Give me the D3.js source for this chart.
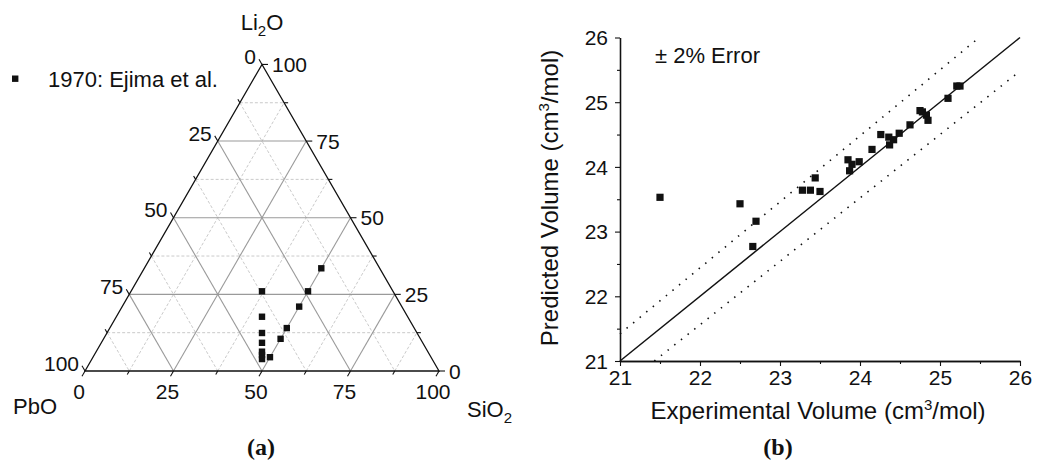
<!DOCTYPE html>
<html>
<head>
<meta charset="utf-8">
<script src="https://cdn.jsdelivr.net/npm/d3@7"></script>
<style>
  body { margin: 0; background: #fff; }
  svg { display: block; }
  text { font-family: "Liberation Sans", Arial, sans-serif; fill: #111; }
</style>
</head>
<body>
<svg id="chart" width="1037" height="461"></svg>
<script>
// ---- (a) ternary compositions, mol % (PbO = 100 - Li2O - SiO2) ----
const ternLi2O = [33.5, 26, 21, 14, 10.5, 4.5, 26, 17.7, 12.4, 9.2, 6.3, 5.2, 3.9];
const ternSiO2 = [50, 50, 50, 50, 50, 50, 37, 41.15, 43.8, 45.4, 46.85, 47.4, 48.05];
const ternMajor = [0, 25, 50, 75, 100];
const ternGrid = [25, 50, 75];
const ternMinor = [12.5, 37.5, 62.5, 87.5];
const legendLabel = "1970: Ejima et al.";

// ---- (b) experimental vs predicted molar volume, cm3/mol ----
const experimental = [21.50, 22.50, 22.70, 22.66, 23.28, 23.38, 23.44, 23.50, 23.85, 23.87,
                      23.90, 23.99, 24.15, 24.26, 24.36, 24.37, 24.42, 24.49, 24.625, 24.75,
                      24.78, 24.83, 24.85, 25.10, 25.21, 25.25];
const predicted    = [23.53, 23.43, 23.16, 22.77, 23.64, 23.64, 23.83, 23.62, 24.11, 23.94,
                      24.04, 24.08, 24.27, 24.50, 24.46, 24.34, 24.42, 24.52, 24.65, 24.87,
                      24.85, 24.80, 24.72, 25.06, 25.25, 25.25];
const volTicks = [21, 22, 23, 24, 25, 26];
const volMinor = [21.5, 22.5, 23.5, 24.5, 25.5];
const errorBand = 0.02;

const svg = d3.select("#chart");

// ================= (a) Ternary diagram =================
const T = { x0: 85, y0: 371, side: 354 };
const s = d3.scaleLinear().domain([0, 100]).range([0, T.side]);
const R3 = Math.sqrt(3) / 2;
// position from Li2O and SiO2 percentages
function tp(li, si) {
  return [T.x0 + s(si) + s(li) / 2, T.y0 - s(li) * R3];
}
const a = svg.append("g");

function seg(p, q) {
  return a.append("line").attr("x1", p[0]).attr("y1", p[1]).attr("x2", q[0]).attr("y2", q[1]);
}
// grid lines: minor dashed, major solid
function gridFamily(vals, stroke, dash, width) {
  vals.forEach(v => {
    // constant Li2O
    seg(tp(v, 0), tp(v, 100 - v)).attr("stroke", stroke).attr("stroke-dasharray", dash).attr("stroke-width", width);
    // constant SiO2
    seg(tp(0, v), tp(100 - v, v)).attr("stroke", stroke).attr("stroke-dasharray", dash).attr("stroke-width", width);
    // constant PbO
    seg(tp(100 - v, 0), tp(0, 100 - v)).attr("stroke", stroke).attr("stroke-dasharray", dash).attr("stroke-width", width);
  });
}
gridFamily(ternMinor, "#c4c4c4", "3,2", 0.9);
gridFamily(ternGrid, "#9a9a9a", null, 1.1);

// triangle frame
a.append("path")
  .attr("d", d3.line()([tp(0, 0), tp(0, 100), tp(100, 0)]) + "Z")
  .attr("fill", "none").attr("stroke", "#111").attr("stroke-width", 1.3);

// ticks
const tickLen = 6, minorLen = 4;
function ticks(vals, len) {
  vals.forEach(v => {
    const b = tp(0, v);            // SiO2 axis (bottom)
    seg(b, [b[0] - 0.5 * len, b[1] + R3 * len]).attr("stroke", "#111").attr("stroke-width", 1.1);
    const r = tp(v, 100 - v);      // Li2O axis (right)
    seg(r, [r[0] + len, r[1]]).attr("stroke", "#111").attr("stroke-width", 1.1);
    const l = tp(100 - v, 0);      // PbO axis (left)
    seg(l, [l[0] - 0.5 * len, l[1] - R3 * len]).attr("stroke", "#111").attr("stroke-width", 1.1);
  });
}
ticks(ternMajor, tickLen);
ticks(ternMinor, minorLen);

// tick labels
const tfs = 21;
ternMajor.forEach(v => {
  const b = tp(0, v);
  a.append("text").attr("x", b[0] - 6).attr("y", b[1] + 20)
    .attr("text-anchor", "middle").attr("dominant-baseline", "central")
    .attr("font-size", tfs).text(v);
  const r = tp(v, 100 - v);
  a.append("text").attr("x", r[0] + 10).attr("y", r[1])
    .attr("text-anchor", "start").attr("dominant-baseline", "central")
    .attr("font-size", tfs).text(v);
  const l = tp(100 - v, 0);
  a.append("text").attr("x", l[0] - 6).attr("y", l[1] - 8)
    .attr("text-anchor", "end").attr("dominant-baseline", "central")
    .attr("font-size", tfs).text(v);
});

// component names (with sub/superscripts)
function formula(g, x, y, anchor, parts) {
  const t = g.append("text").attr("x", x).attr("y", y).attr("text-anchor", anchor)
    .attr("font-size", 22);
  parts.forEach(p => {
    if (p.sub) t.append("tspan").attr("dy", 6).attr("font-size", 15).text(p.t);
    else if (p.sup) t.append("tspan").attr("dy", -9).attr("font-size", 15).text(p.t);
    else t.append("tspan").attr("dy", p.back || 0).text(p.t);
  });
  return t;
}
formula(a, 262, 30, "middle", [{ t: "Li" }, { t: "2", sub: true }, { t: "O", back: -6 }]);
formula(a, 13, 414, "start", [{ t: "PbO" }]);
formula(a, 467, 417, "start", [{ t: "SiO" }, { t: "2", sub: true }]);

// data points
a.append("g").selectAll("rect").data(ternLi2O.map((li, i) => tp(li, ternSiO2[i])))
  .join("rect")
  .attr("x", d => d[0] - 3.2).attr("y", d => d[1] - 3.2)
  .attr("width", 6.4).attr("height", 6.4).attr("fill", "#111");

// legend
a.append("rect").attr("x", 12).attr("y", 75.5).attr("width", 6.4).attr("height", 6.4).attr("fill", "#111");
a.append("text").attr("x", 48).attr("y", 79).attr("dominant-baseline", "central")
  .attr("font-size", 22).text(legendLabel);

// caption
a.append("text").attr("x", 261).attr("y", 447).attr("text-anchor", "middle")
  .attr("dominant-baseline", "central")
  .style("font-family", "'Liberation Serif', 'Times New Roman', serif")
  .attr("font-weight", "bold").attr("font-size", 24).text("(a)");

// ================= (b) Predicted vs experimental =================
const x = d3.scaleLinear().domain([21, 26]).range([620, 1020]);
const y = d3.scaleLinear().domain([21, 26]).range([361, 37.5]);
const b = svg.append("g");

// parity line and +/- error band
const parity = d3.line().x(d => x(d[0])).y(d => y(d[1]));
b.append("path").attr("d", parity([[21, 21], [26, 26]]))
  .attr("fill", "none").attr("stroke", "#111").attr("stroke-width", 1.5);
const upEnd = 26 / (1 + errorBand);
b.append("path").attr("d", parity([[21, 21 * (1 + errorBand)], [upEnd, 26]]))
  .attr("fill", "none").attr("stroke", "#111").attr("stroke-width", 1.6)
  .attr("stroke-dasharray", "1.5,7");
const loStart = 21 / (1 - errorBand);
b.append("path").attr("d", parity([[loStart, 21], [26, 26 * (1 - errorBand)]]))
  .attr("fill", "none").attr("stroke", "#111").attr("stroke-width", 1.6)
  .attr("stroke-dasharray", "1.5,7");

// axes
const fmt = d3.format("d");
b.append("g").attr("transform", `translate(0,${y(21)})`)
  .call(d3.axisBottom(x).tickValues(volTicks).tickFormat(fmt).tickSize(5).tickSizeOuter(0).tickPadding(4));
b.append("g").attr("transform", `translate(0,${y(21)})`)
  .call(d3.axisBottom(x).tickValues(volMinor).tickSize(3).tickSizeOuter(0).tickFormat(""));
const yAxis = b.append("g").attr("transform", `translate(${x(21)},0)`)
  .call(d3.axisLeft(y).tickValues(volTicks).tickFormat(fmt).tickSize(5).tickSizeOuter(0).tickPadding(7));
b.append("g").attr("transform", `translate(${x(21)},0)`)
  .call(d3.axisLeft(y).tickValues(volMinor).tickSize(3).tickSizeOuter(0).tickFormat(""));
b.selectAll(".domain").attr("stroke", "#111").attr("stroke-width", 1.3);
b.selectAll(".tick line").attr("stroke", "#111").attr("stroke-width", 1.1);
b.selectAll(".tick text").attr("font-size", 21).attr("fill", "#111")
  .style("font-family", "'Liberation Sans', Arial, sans-serif");
yAxis.selectAll(".tick text").attr("dy", "0.35em");

// points
b.append("g").selectAll("rect").data(experimental.map((e, i) => [x(e), y(predicted[i])]))
  .join("rect")
  .attr("x", d => d[0] - 3.6).attr("y", d => d[1] - 3.6)
  .attr("width", 7.2).attr("height", 7.2).attr("fill", "#111");

// annotation
b.append("text").attr("x", 655).attr("y", 55).attr("dominant-baseline", "central")
  .attr("font-size", 22).text("\u00B1 2% Error");

// axis titles
formula(b, 818, 419, "middle",
  [{ t: "Experimental Volume (cm" }, { t: "3", sup: true }, { t: "/mol)", back: 9 }]).attr("font-size", 24);
const yt = formula(b, 0, 0, "middle",
  [{ t: "Predicted Volume (cm" }, { t: "3", sup: true }, { t: "/mol)", back: 9 }]).attr("font-size", 24);
yt.attr("transform", "translate(558,198) rotate(-90)");

b.append("text").attr("x", 778).attr("y", 447).attr("text-anchor", "middle")
  .attr("dominant-baseline", "central")
  .style("font-family", "'Liberation Serif', 'Times New Roman', serif")
  .attr("font-weight", "bold").attr("font-size", 24).text("(b)");
</script>
</body>
</html>
